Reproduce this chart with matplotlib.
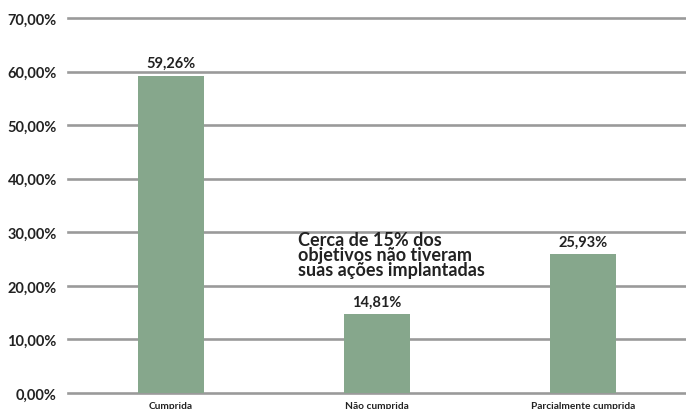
import numpy as np
import matplotlib
matplotlib.use("Agg")
import matplotlib.pyplot as plt

categorias = ["Cumprida", "Não cumprida", "Parcialmente cumprida"]
valores = [59.26, 14.81, 25.93]
rotulos = ["59,26%", "14,81%", "25,93%"]
yticks = [0, 10, 20, 30, 40, 50, 60, 70]
ytick_labels = ["0,00%", "10,00%", "20,00%", "30,00%", "40,00%", "50,00%", "60,00%", "70,00%"]

plt.rcParams['font.family'] = ['Lato', 'DejaVu Sans']

fig = plt.figure(figsize=(6.86, 4.10), dpi=100)
ax = fig.add_axes([68/686, 1 - 394/410, 618/686, 375/410])

x = np.arange(len(categorias))
ax.set_xlim(-0.5, 2.5)
ax.set_ylim(0, 70)

for t in yticks:
    ax.axhline(t, color="#9a9a9a", lw=1.9, zorder=1, clip_on=False)

ax.bar(x, valores, width=0.32, color="#86a78c", zorder=2)

for xi, v, r in zip(x, valores, rotulos):
    ax.text(xi, v + 1.0, r, ha="center", va="bottom", fontsize=10.5,
            fontweight="bold", color="#222222")

ax.set_yticks(yticks)
ax.set_yticklabels(ytick_labels, fontsize=10.5, fontweight="bold", color="#222222")
ax.tick_params(axis="y", length=0, pad=8)
ax.set_xticks(x)
ax.set_xticklabels(categorias, fontsize=7.3, fontweight="bold", color="#222222")
ax.tick_params(axis="x", length=0, pad=6)

for s in ax.spines.values():
    s.set_visible(False)

ax.text(1 - 0.385, 30.2, "Cerca de 15% dos\nobjetivos não tiveram\nsuas ações implantadas",
        ha="left", va="top", fontsize=13, fontweight="bold", color="#222222",
        linespacing=0.84)

fig.savefig("out.png", dpi=100)
